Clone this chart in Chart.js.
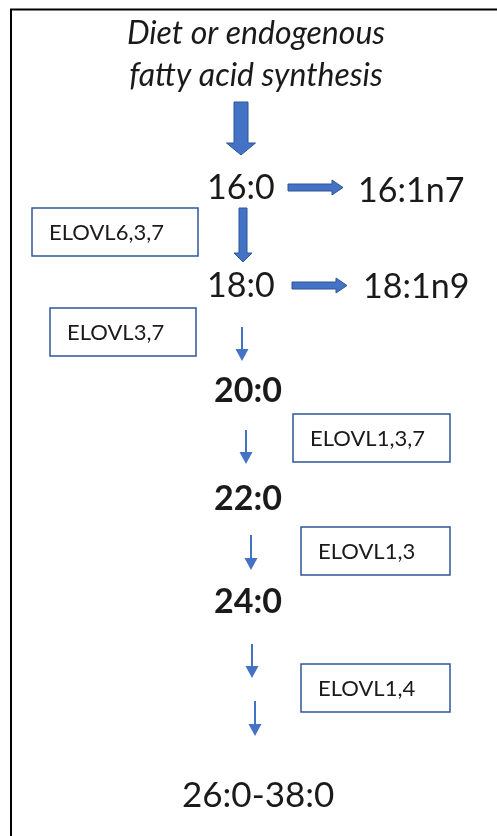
<!DOCTYPE html>
<html>
<head>
<meta charset="utf-8">
<script src="https://cdn.jsdelivr.net/npm/chart.js@4.4.0/dist/chart.umd.min.js"></script>
<style>
  html, body { margin: 0; padding: 0; background: #fff; }
  canvas { display: block; }
</style>
</head>
<body>
<canvas id="chart" width="497" height="836"></canvas>
<script>
// source text (top, italic)
const sourceLines = ['Diet or endogenous', 'fatty acid synthesis'];
const sourceX = [256, 256];
const sourceY = [44, 86];

// fatty acid steps (x = left edge, y = baseline)
const stepLabels = ['16:0', '16:1n7', '18:0', '18:1n9', '20:0', '22:0', '24:0', '26:0-38:0'];
const stepX = [207, 358, 207, 363, 214, 214, 214, 182];
const stepY = [199, 202, 297, 298, 402, 510, 613, 807];
const boldSteps = ['20:0', '22:0', '24:0'];

// enzymes in boxes
const enzymeLabels = ['ELOVL6,3,7', 'ELOVL3,7', 'ELOVL1,3,7', 'ELOVL1,3', 'ELOVL1,4'];
const enzymeBoxX = [32, 50, 293, 301, 301];
const enzymeBoxY = [208, 308, 414, 527, 664];
const enzymeBoxW = [166, 146, 157, 149, 149];
const enzymeTextX = [49, 67, 310, 318, 318];

// block arrows: from -> to
const blockFrom = [[241, 102], [288, 187.5], [243, 208], [292, 285.5]];
const blockTo = [[241, 155], [343, 187.5], [243, 262], [347, 285.5]];
const blockShaft = [14, 7, 8, 7];
const blockHead = [29, 15, 18, 15];
const blockHeadLen = [12, 11, 9, 11];

// thin arrows: x, top, bottom
const thinX = [242, 246, 251, 252, 255];
const thinTop = [327, 430, 535, 644, 701];
const thinBottom = [361, 464, 570, 678, 736];

const BLUE = '#4472C4';
const DARK_BLUE = '#2F5597';
const TEXT = '#1a1a1a';
const FONT = 'Lato, "Open Sans", sans-serif';

const diagramPlugin = {
  id: 'diagram',
  afterDatasetsDraw(chart) {
    const ctx = chart.ctx;
    const xs = chart.scales.x, ys = chart.scales.y;
    const px = v => xs.getPixelForValue(v);
    const py = v => ys.getPixelForValue(v);
    ctx.save();

    // frame
    ctx.strokeStyle = '#000';
    ctx.lineWidth = 2;
    ctx.beginPath();
    ctx.moveTo(px(11), py(836));
    ctx.lineTo(px(11), py(9.5));
    ctx.lineTo(px(497), py(9.5));
    ctx.stroke();

    // source text
    ctx.fillStyle = TEXT;
    ctx.textAlign = 'center';
    ctx.textBaseline = 'alphabetic';
    ctx.font = 'italic 32px ' + FONT;
    sourceLines.forEach((t, i) => ctx.fillText(t, px(sourceX[i]), py(sourceY[i])));

    // steps
    ctx.textAlign = 'left';
    stepLabels.forEach((t, i) => {
      const bold = boldSteps.includes(t);
      const size = t === '26:0-38:0' ? 35 : 34;
      ctx.font = (bold ? 'bold ' : '') + size + 'px ' + FONT;
      ctx.fillText(t, px(stepX[i]), py(stepY[i]));
    });

    // enzyme boxes
    enzymeLabels.forEach((t, i) => {
      ctx.strokeStyle = DARK_BLUE;
      ctx.lineWidth = 1.5;
      const x = px(enzymeBoxX[i]), y = py(enzymeBoxY[i]);
      ctx.strokeRect(x, y, px(enzymeBoxX[i] + enzymeBoxW[i]) - x, py(enzymeBoxY[i] + 48) - y);
      ctx.fillStyle = TEXT;
      ctx.font = '22px ' + FONT;
      ctx.textBaseline = 'middle';
      ctx.fillText(t, px(enzymeTextX[i]), py(enzymeBoxY[i] + 25));
    });

    // block arrows
    blockFrom.forEach((f, i) => {
      const x1 = px(f[0]), y1 = py(f[1]), x2 = px(blockTo[i][0]), y2 = py(blockTo[i][1]);
      const len = Math.hypot(x2 - x1, y2 - y1);
      const ang = Math.atan2(y2 - y1, x2 - x1);
      const s = blockShaft[i] / 2, h = blockHead[i] / 2, hl = blockHeadLen[i];
      ctx.save();
      ctx.translate(x1, y1);
      ctx.rotate(ang);
      ctx.beginPath();
      ctx.moveTo(0, -s);
      ctx.lineTo(len - hl, -s);
      ctx.lineTo(len - hl, -h);
      ctx.lineTo(len, 0);
      ctx.lineTo(len - hl, h);
      ctx.lineTo(len - hl, s);
      ctx.lineTo(0, s);
      ctx.closePath();
      ctx.fillStyle = BLUE;
      ctx.fill();
      ctx.strokeStyle = DARK_BLUE;
      ctx.lineWidth = 1;
      ctx.stroke();
      ctx.restore();
    });

    // thin arrows
    thinX.forEach((x0, i) => {
      const x = px(x0), top = py(thinTop[i]), bot = py(thinBottom[i]);
      ctx.strokeStyle = BLUE;
      ctx.fillStyle = BLUE;
      ctx.lineWidth = 2;
      ctx.beginPath();
      ctx.moveTo(x, top);
      ctx.lineTo(x, bot - 10);
      ctx.stroke();
      ctx.beginPath();
      ctx.moveTo(x - 6.5, bot - 12);
      ctx.lineTo(x + 6.5, bot - 12);
      ctx.lineTo(x, bot);
      ctx.closePath();
      ctx.fill();
    });

    ctx.restore();
  }
};

new Chart(document.getElementById('chart'), {
  type: 'scatter',
  data: {
    datasets: [{
      data: stepLabels.map((t, i) => ({ x: stepX[i], y: stepY[i] })),
      pointRadius: 0
    }]
  },
  options: {
    responsive: false,
    animation: false,
    layout: { padding: 0 },
    plugins: { legend: { display: false }, tooltip: { enabled: false } },
    scales: {
      x: { type: 'linear', min: 0, max: 497, display: false },
      y: { type: 'linear', min: 0, max: 836, reverse: true, display: false }
    }
  },
  plugins: [diagramPlugin]
});
</script>
</body>
</html>
